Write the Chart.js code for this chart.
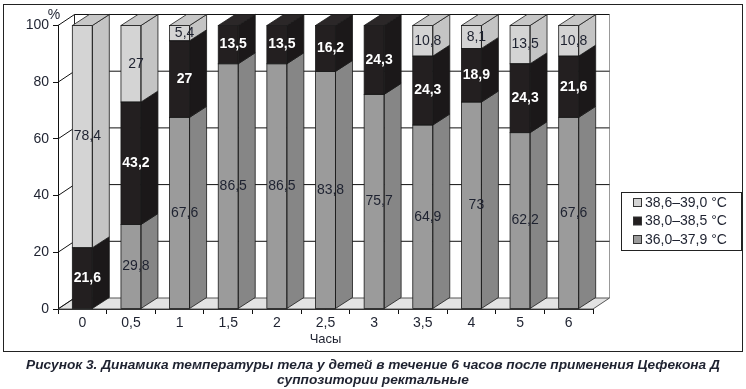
<!DOCTYPE html>
<html>
<head>
<meta charset="utf-8">
<script src="https://cdn.jsdelivr.net/npm/chart.js@4/dist/chart.umd.min.js"></script>
<style>
  html, body { margin: 0; padding: 0; background: #fff; }
  #wrap { position: relative; width: 746px; height: 389px; }
  #c { position: absolute; left: 0; top: 0; }
  .caption {
    position: absolute; left: 0; top: 357px; width: 746px;
    text-align: center; font: italic bold 13.7px "Liberation Sans", Arial, sans-serif;
    line-height: 15px; color: #1e2230;
  }
</style>
</head>
<body>
<div id="wrap">
  <canvas id="c" width="746" height="389"></canvas>
  <div class="caption">Рисунок 3. Динамика температуры тела у детей в течение 6 часов после применения Цефекона Д<br>суппозитории ректальные</div>
</div>
<script>
/* Данные */
const hours = ["0", "0,5", "1", "1,5", "2", "2,5", "3", "3,5", "4", "5", "6"];
const normal = [0, 29.8, 67.6, 86.5, 86.5, 83.8, 75.7, 64.9, 73, 62.2, 67.6];   // 36,0–37,9 °C
const subfeb = [21.6, 43.2, 27, 13.5, 13.5, 16.2, 24.3, 24.3, 18.9, 24.3, 21.6]; // 38,0–38,5 °C
const febr = [78.4, 27, 5.4, 0, 0, 0, 0, 10.8, 8.1, 13.5, 10.8];              // 38,6–39,0 °C
const yTicks = [0, 20, 40, 60, 80, 100];

const INK = "#1e2230";
const FONT = '"Liberation Sans", Arial, sans-serif';
const DX = 17, DY = -11;        // глубина столбиков
const WDX = 16.5, WDY = -11;    // глубина стенок

const styles = [
  { front: "#9b9b9b", side: "#868686", top: "#909090", text: INK, bold: false },
  { front: "#231f20", side: "#1b1819", top: "#2b2728", text: "#ffffff", bold: true },
  { front: "#d4d4d4", side: "#c4c4c4", top: "#c7c7c7", text: INK, bold: false },
];

function poly(ctx, pts, fill, stroke) {
  ctx.beginPath();
  ctx.moveTo(pts[0][0], pts[0][1]);
  for (let i = 1; i < pts.length; i++) ctx.lineTo(pts[i][0], pts[i][1]);
  ctx.closePath();
  if (fill) { ctx.fillStyle = fill; ctx.fill(); }
  if (stroke) { ctx.strokeStyle = stroke; ctx.stroke(); }
}

/* Стенки, пол и сетка в духе 3D-диаграммы */
const walls = {
  id: "walls",
  beforeDatasetsDraw(chart) {
    const { ctx, chartArea: a, scales: { y } } = chart;
    const L = a.left, R = a.right, T = a.top, B = a.bottom;
    ctx.save();
    ctx.lineWidth = 1;
    // рамка рисунка
    ctx.strokeStyle = "#222";
    ctx.strokeRect(3.5, 4.5, 739, 347);
    // задняя стенка
    ctx.fillStyle = "#fff";
    ctx.fillRect(L + WDX, T + WDY, R - L, B - T);
    ctx.strokeStyle = "#999";
    ctx.beginPath();
    ctx.moveTo(R + WDX, T + WDY); ctx.lineTo(R + WDX, B + WDY);
    ctx.stroke();
    // пол
    poly(ctx, [[L, B], [R, B], [R + WDX, B + WDY], [L + WDX, B + WDY]], "#e3e3e3", "#555");
    // боковая стенка
    ctx.strokeStyle = "#222";
    ctx.beginPath();
    ctx.moveTo(L + WDX, T + WDY); ctx.lineTo(L + WDX, B + WDY);
    ctx.stroke();
    // линии сетки
    yTicks.forEach((v) => {
      const py = y.getPixelForValue(v);
      ctx.strokeStyle = "#111";
      ctx.beginPath();
      ctx.moveTo(L, py); ctx.lineTo(L + WDX, py + WDY);
      if (v > 0) ctx.lineTo(R + WDX, py + WDY);
      ctx.stroke();
    });
    // знак процента
    ctx.fillStyle = INK;
    ctx.font = "14px " + FONT;
    ctx.textAlign = "center";
    ctx.textBaseline = "middle";
    ctx.fillText("%", 54, 15);
    ctx.restore();
  },
  afterDatasetsDraw(chart) {
    const ctx = chart.ctx;
    ctx.save();
    ctx.lineWidth = 0.8;
    const metas = chart.data.datasets.map((d, i) => chart.getDatasetMeta(i));
    hours.forEach((h, i) => {
      let topDs = -1;
      for (let d = metas.length - 1; d >= 0; d--) {
        if (chart.data.datasets[d].data[i] > 0) { topDs = d; break; }
      }
      metas.forEach((m, d) => {
        if (!(chart.data.datasets[d].data[i] > 0)) return;
        const el = m.data[i];
        const p = el.getProps(["x", "y", "base", "width"], true);
        const l = p.x - p.width / 2, r = p.x + p.width / 2;
        const t = Math.min(p.y, p.base), b = Math.max(p.y, p.base);
        const st = styles[d];
        poly(ctx, [[r, t], [r + DX, t + DY], [r + DX, b + DY], [r, b]], st.side, "#1a1a1a");
        ctx.strokeStyle = "#1a1a1a";
        ctx.strokeRect(l, t, p.width, b - t);
        if (d === topDs) {
          poly(ctx, [[l, t], [l + DX, t + DY], [r + DX, t + DY], [r, t]], st.top, "#1a1a1a");
        }
      });
    });
    // подписи значений
    ctx.textAlign = "center";
    ctx.textBaseline = "middle";
    metas.forEach((m, d) => {
      const st = styles[d];
      ctx.font = (st.bold ? "bold " : "") + "14px " + FONT;
      ctx.fillStyle = st.text;
      m.data.forEach((el, i) => {
        const v = chart.data.datasets[d].data[i];
        if (!(v > 0)) return;
        const p = el.getProps(["x", "y", "base"], true);
        ctx.fillText(String(v).replace(".", ","), p.x + 5, (p.y + p.base) / 2);
      });
    });
    // легенда
    ctx.lineWidth = 1;
    ctx.strokeStyle = "#222";
    ctx.strokeRect(621.5, 192.5, 120, 58);
    const items = [2, 1, 0];
    ctx.font = "14px " + FONT;
    ctx.textAlign = "left";
    items.forEach((d, k) => {
      const cy = 203 + k * 18.5;
      ctx.fillStyle = styles[d].front;
      ctx.fillRect(633.5, cy - 4.5, 8, 8);
      ctx.strokeStyle = "#333";
      ctx.strokeRect(633.5, cy - 4.5, 8, 8);
      ctx.fillStyle = INK;
      ctx.fillText(chart.data.datasets[d].label, 645, cy);
    });
    ctx.restore();
  },
};

const ds = (label, data, d) => ({
  label, data,
  backgroundColor: styles[d].front,
  borderWidth: 0,
  barPercentage: 0.411,
  categoryPercentage: 1,
});

new Chart(document.getElementById("c"), {
  type: "bar",
  data: {
    labels: hours,
    datasets: [
      ds("36,0–37,9 °C", normal, 0),
      ds("38,0–38,5 °C", subfeb, 1),
      ds("38,6–39,0 °C", febr, 2),
    ],
  },
  options: {
    responsive: false,
    animation: false,
    layout: { padding: { top: 25.5, right: 153, left: 0, bottom: 42 } },
    plugins: { legend: { display: false }, tooltip: { enabled: false } },
    scales: {
      x: {
        stacked: true,
        grid: { offset: true, drawOnChartArea: false, drawTicks: true, tickLength: 5, color: "#111" },
        border: { color: "#111" },
        ticks: { color: INK, font: { size: 14, family: FONT }, padding: 1, maxRotation: 0 },
        title: { display: true, text: "Часы", color: INK, font: { size: 13, family: FONT }, padding: { top: 0, bottom: 0 } },
        afterFit(s) { s.height = 38; },
      },
      y: {
        stacked: true,
        min: 0, max: 100,
        afterBuildTicks(s) { s.ticks = yTicks.map((v) => ({ value: v })); },
        grid: { drawOnChartArea: false, drawTicks: true, tickLength: 5, color: "#111" },
        border: { color: "#111" },
        ticks: { color: INK, font: { size: 14, family: FONT }, padding: 4 },
        afterFit(s) { s.width = 58; },
      },
    },
  },
  plugins: [walls],
});
</script>
</body>
</html>
